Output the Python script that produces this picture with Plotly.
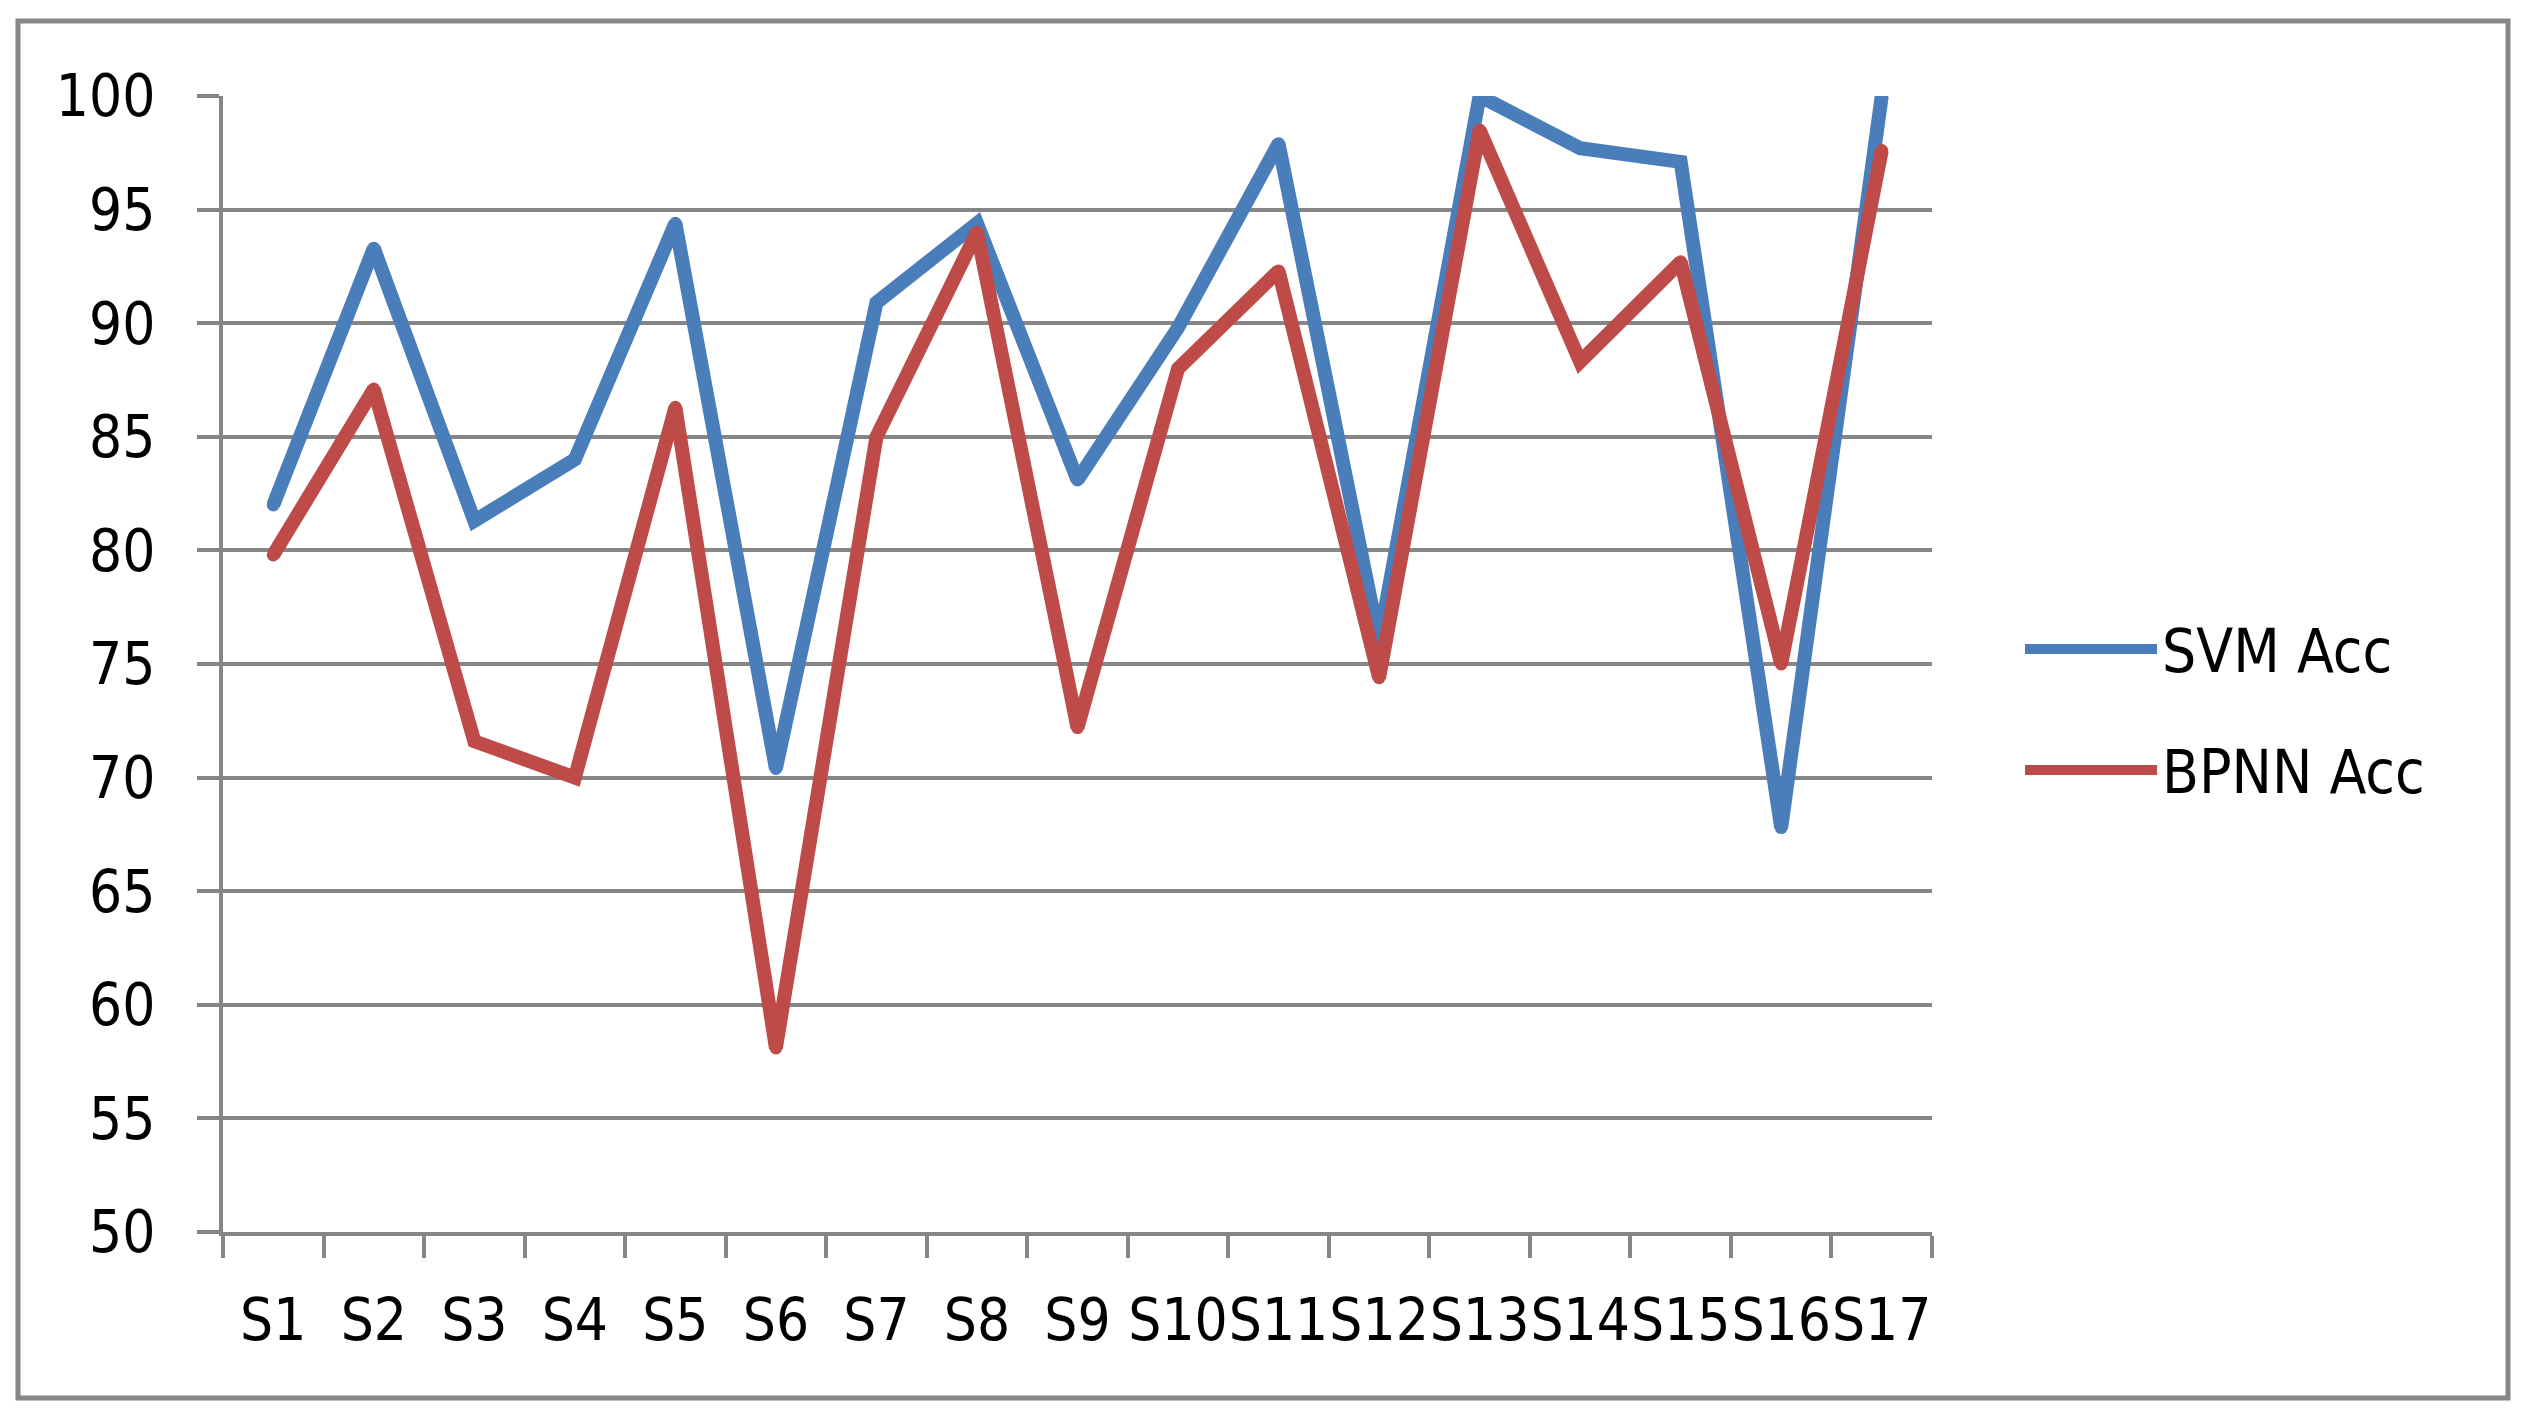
import plotly.graph_objects as go

categories = [f"S{i}" for i in range(1, 18)]
svm_acc = [82.0, 93.3, 81.3, 84.0, 94.4, 70.4, 90.9, 94.4, 83.1, 89.8, 97.9, 76.0, 100.0, 97.7, 97.1, 67.8, 100.0]
bpnn_acc = [79.8, 87.1, 71.6, 70.0, 86.3, 58.1, 85.0, 94.0, 72.2, 88.0, 92.3, 74.4, 98.5, 88.3, 92.7, 75.0, 97.6]
series_names = ["SVM Acc", "BPNN Acc"]
y_ticks = list(range(50, 101, 5))

OFF = 8  # browser body margin
PL, PR, PT, PB = 223, 1932, 96, 1232  # plot area in screenshot pixels
W, H = 2530 - 2 * OFF, 1421 - 2 * OFF
pw, ph = PR - PL, PB - PT
L, T = PL - OFF, PT - OFF
R, B = W - L - pw, H - T - ph

def px(x):
    return (x - PL) / pw

def py(y):
    return (PB - y) / ph

FONT = "Liberation Sans Narrow, Arial Narrow, DejaVu Sans Condensed, sans-serif"
GREY = "#868686"
COLORS = ["#4A7EBB", "#BE4B48"]
LW = 14

fig = go.Figure()
for name, vals, col, lg in zip(series_names, [svm_acc, bpnn_acc], COLORS, ["legend", "legend2"]):
    # data line with round vertices
    fig.add_trace(go.Scatter(x=categories, y=vals, mode="lines+markers", name=name,
                             line=dict(color=col, width=LW),
                             marker=dict(color=col, size=LW - 1, line=dict(width=0)),
                             showlegend=False))
    # legend entry (line only)
    fig.add_trace(go.Scatter(x=[None], y=[None], mode="lines", name=name,
                             line=dict(color=col, width=LW), legend=lg, hoverinfo="skip"))

legend_common = dict(font=dict(family=FONT, size=60, color="black"), bgcolor="rgba(0,0,0,0)",
                     itemwidth=132, xanchor="left", yanchor="middle")
fig.update_layout(
    width=W, height=H,
    margin=dict(l=L, r=R, t=T, b=B),
    paper_bgcolor="white", plot_bgcolor="white",
    font=dict(family=FONT, size=60, color="black"),
    showlegend=True,
    legend=dict(x=px(2020), y=py(649), **legend_common),
    legend2=dict(x=px(2020), y=py(770), **legend_common),
    xaxis=dict(type="category", categoryarray=categories, range=[-0.5, len(categories) - 0.5],
               showgrid=False, showline=True, linecolor=GREY, linewidth=4,
               ticks="outside", tickson="boundaries", ticklen=22, tickwidth=4, tickcolor=GREY,
               tickangle=0, ticklabelstandoff=34, tickfont=dict(size=58)),
    yaxis=dict(range=[50, 100], tickvals=y_ticks, showgrid=True, gridcolor=GREY, gridwidth=4,
               showline=True, linecolor=GREY, linewidth=4, ticks="outside", ticklen=22,
               tickwidth=4, tickcolor=GREY, ticklabelstandoff=30, zeroline=False,
               tickfont=dict(size=58)),
    shapes=[dict(type="rect", xref="paper", yref="paper",
                 x0=px(18), x1=px(2508), y0=py(1398), y1=py(21),
                 line=dict(color=GREY, width=5), layer="below")],
)

fig.write_html("out.html")
